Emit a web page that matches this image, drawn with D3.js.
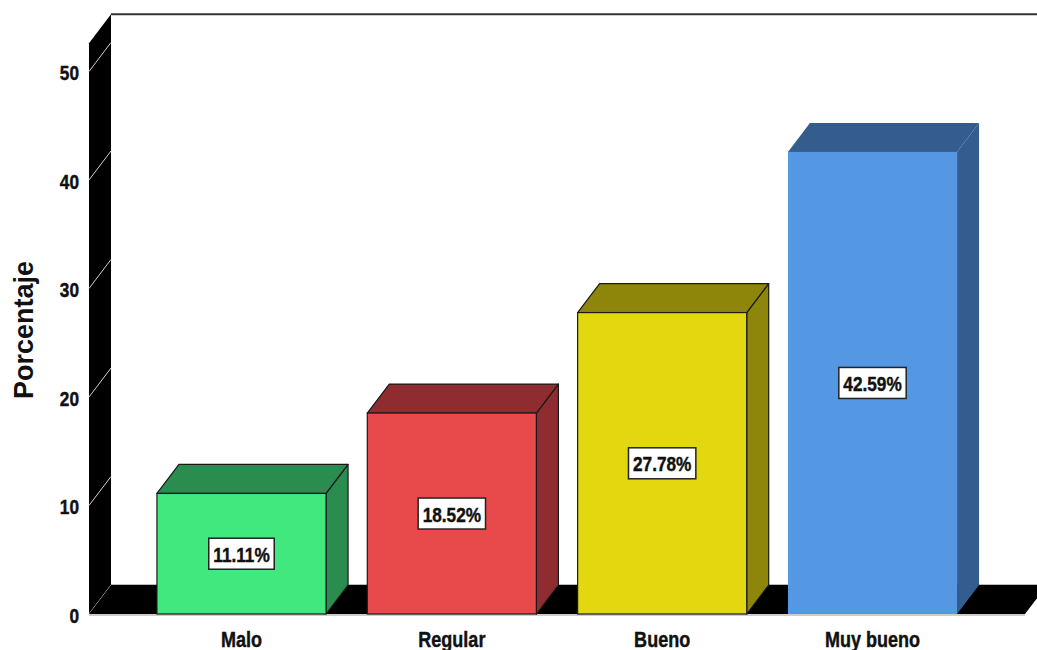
<!DOCTYPE html>
<html>
<head>
<meta charset="utf-8">
<script src="https://cdn.jsdelivr.net/npm/d3@7/dist/d3.min.js"></script>
<style>
  html, body { margin: 0; padding: 0; background: #fff; }
  svg { display: block; }
  text { font-family: "Liberation Sans", Arial, sans-serif; font-weight: bold; fill: #111; }
  text.heavy { stroke: #111; stroke-width: 0.45px; }
</style>
</head>
<body>
<svg id="chart" width="1037" height="650"></svg>
<script>
// Data
const categories = ["Malo", "Regular", "Bueno", "Muy bueno"];
const percentages = [11.11, 18.52, 27.78, 42.59];
const valueLabels = ["11.11%", "18.52%", "27.78%", "42.59%"];
const yTicks = [0, 10, 20, 30, 40, 50];

// Colours: front face, shaded faces, outline
const frontColors = ["#41E87E", "#E84A4B", "#E3D80F", "#5497E3"];
const shadeColors = ["#2A8C4E", "#8E2C2F", "#8E860A", "#345D8E"];
const edgeColors  = ["#1a1a1a", "#1a1a1a", "#1a1a1a", "none"];

const svg = d3.select("#chart");

// 3D depth offset of the back plane
const depthX = 22, depthY = -29;
const wallTopValue = 52.6;
const narrow = 0.82; // horizontal squeeze for condensed bold labels

const x = d3.scaleBand()
  .domain(categories)
  .range([89, 1025])
  .paddingInner(0.196)
  .paddingOuter(0.323);

const y = d3.scaleLinear().domain([0, 50]).range([614, 71.5]);

const x0 = x.range()[0], x1 = x.range()[1];
const yBase = y(0), yTop = y(wallTopValue);

// Back wall top edge
svg.append("line")
  .attr("x1", x0 + depthX).attr("y1", yTop + depthY)
  .attr("x2", 1037).attr("y2", yTop + depthY)
  .attr("stroke", "#333").attr("stroke-width", 2);

// Left wall
svg.append("polygon")
  .attr("points", [
    [x0, yTop], [x0 + depthX, yTop + depthY],
    [x0 + depthX, yBase + depthY], [x0, yBase]
  ].map(p => p.join(",")).join(" "))
  .attr("fill", "#000");

// Gridlines across the left wall
svg.append("g").selectAll("line")
  .data(yTicks)
  .join("line")
  .attr("x1", x0).attr("y1", d => y(d))
  .attr("x2", x0 + depthX).attr("y2", d => y(d) + depthY)
  .attr("stroke", "#d0d0d0").attr("stroke-width", 1);

// Floor
svg.append("polygon")
  .attr("points", [
    [x0, yBase], [x1, yBase],
    [x1 + depthX, yBase + depthY], [x0 + depthX, yBase + depthY]
  ].map(p => p.join(",")).join(" "))
  .attr("fill", "#000");
svg.append("line")
  .attr("x1", x0 + depthX).attr("y1", yBase + depthY - 0.5)
  .attr("x2", 1037).attr("y2", yBase + depthY - 0.5)
  .attr("stroke", "#bbb").attr("stroke-width", 1);
svg.append("line")
  .attr("x1", x0).attr("y1", yBase + 1)
  .attr("x2", x1).attr("y2", yBase + 1)
  .attr("stroke", "#999").attr("stroke-width", 1);

// Y tick labels
svg.append("g").selectAll("g")
  .data(yTicks)
  .join("g")
  .attr("transform", d => `translate(79,${y(d) + 3}) scale(${narrow},1)`)
  .append("text")
  .attr("class", "heavy")
  .attr("text-anchor", "end")
  .attr("dominant-baseline", "middle")
  .style("font-size", "21px")
  .text(d => d);

// Y axis title
svg.append("text")
  .attr("transform", "translate(33,330) rotate(-90)")
  .attr("text-anchor", "middle")
  .style("font-size", "27px")
  .text("Porcentaje");

// Bars
const bars = svg.append("g").selectAll("g")
  .data(categories.map((c, i) => ({ c, v: percentages[i], i })))
  .join("g");

const pts = a => a.map(p => p.join(",")).join(" ");

bars.each(function(d) {
  const g = d3.select(this);
  const bx = x(d.c), bw = x.bandwidth();
  const yv = y(d.v);
  // right side face
  g.append("polygon")
    .attr("points", pts([[bx + bw, yv], [bx + bw + depthX, yv + depthY],
                         [bx + bw + depthX, yBase + depthY], [bx + bw, yBase]]))
    .attr("fill", shadeColors[d.i])
    .attr("stroke", edgeColors[d.i]).attr("stroke-width", 1.2)
    .attr("stroke-linejoin", "round");
  // top face
  g.append("polygon")
    .attr("points", pts([[bx, yv], [bx + depthX, yv + depthY],
                         [bx + bw + depthX, yv + depthY], [bx + bw, yv]]))
    .attr("fill", shadeColors[d.i])
    .attr("stroke", edgeColors[d.i]).attr("stroke-width", 1.2)
    .attr("stroke-linejoin", "round");
  // front face
  g.append("rect")
    .attr("x", bx).attr("y", yv)
    .attr("width", bw).attr("height", yBase - yv)
    .attr("fill", frontColors[d.i])
    .attr("stroke", edgeColors[d.i]).attr("stroke-width", 1.2);
});

// Value labels in white boxes
bars.each(function(d) {
  const g = d3.select(this);
  const cx = x(d.c) + x.bandwidth() / 2;
  const cy = (y(d.v) + yBase) / 2;
  const lg = g.append("g").attr("transform", `translate(${cx},${cy})`);
  const rect = lg.append("rect");
  const t = lg.append("text")
    .attr("class", "heavy")
    .attr("transform", `scale(${narrow},1)`)
    .attr("text-anchor", "middle")
    .attr("dominant-baseline", "central")
    .attr("y", 1)
    .style("font-size", "21px")
    .text(valueLabels[d.i]);
  const w = t.node().getComputedTextLength() * narrow + 9;
  const h = 31;
  rect.attr("x", -w / 2).attr("y", -h / 2)
    .attr("width", w).attr("height", h)
    .attr("fill", "#fff").attr("stroke", "#222").attr("stroke-width", 1.5);
});

// Category labels
svg.append("g").selectAll("g")
  .data(categories)
  .join("g")
  .attr("transform", d => `translate(${x(d) + x.bandwidth() / 2},647) scale(${narrow},1)`)
  .append("text")
  .attr("class", "heavy")
  .attr("text-anchor", "middle")
  .style("font-size", "22px")
  .text(d => d);
</script>
</body>
</html>
